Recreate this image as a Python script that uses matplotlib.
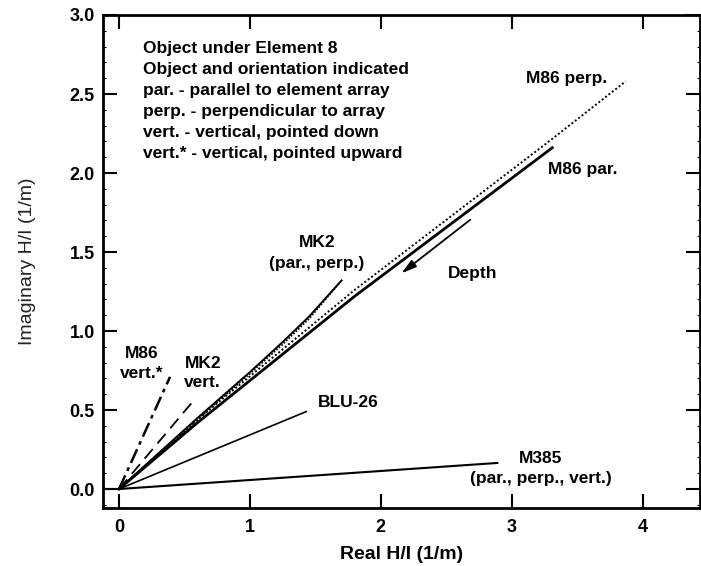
import numpy as np
import matplotlib
matplotlib.use("Agg")
import matplotlib.pyplot as plt
from matplotlib.ticker import MultipleLocator

plt.rcParams['font.family'] = ['Liberation Sans', 'DejaVu Sans']

# curves (real, imaginary), all starting at the origin
m86_perp_x = [0, 0.6, 1.8, 3.3, 3.87]
m86_perp_y = [0, 0.44, 1.26, 2.21, 2.58]
m86_par_x = [0, 0.6, 1.8, 3.31]
m86_par_y = [0, 0.42, 1.22, 2.16]
mk2_par_x = [0, 0.6, 1.0, 1.25, 1.45, 1.70]
mk2_par_y = [0, 0.45, 0.74, 0.93, 1.09, 1.32]
mk2_perp_x = [0, 0.6, 1.0, 1.25, 1.45, 1.68]
mk2_perp_y = [0, 0.44, 0.73, 0.915, 1.075, 1.30]
mk2_vert_x = [0, 0.56]
mk2_vert_y = [0, 0.55]
m86_vert_x = [0, 0.39]
m86_vert_y = [0, 0.71]
blu26_x = [0, 1.43]
blu26_y = [0, 0.49]
m385_x = [0, 2.89]
m385_y = [0, 0.165]

info_lines = ["Object under Element 8",
              "Object and orientation indicated",
              "par. - parallel to element array",
              "perp. - perpendicular to array",
              "vert. - vertical, pointed down",
              "vert.* - vertical, pointed upward"]

fig = plt.figure(figsize=(7.01, 5.66), dpi=100)
ax = fig.add_axes([0.147, 0.1025, 0.851, 0.871])

ax.plot(m86_perp_x, m86_perp_y, color='black', lw=1.4, ls=(0, (1, 1.2)))
ax.plot(m86_par_x, m86_par_y, color='black', lw=2.0)
ax.plot(mk2_par_x, mk2_par_y, color='black', lw=1.4)
ax.plot(mk2_perp_x, mk2_perp_y, color='black', lw=1.2, ls=(0, (1, 1)))
ax.plot(mk2_vert_x, mk2_vert_y, color='black', lw=1.3, ls=(0, (7, 4)))
ax.plot(m86_vert_x, m86_vert_y, color='black', lw=1.8, ls=(0, (6, 2, 1.5, 2)))
ax.plot(blu26_x, blu26_y, color='black', lw=1.2)
ax.plot(m385_x, m385_y, color='black', lw=1.5)

# short line from the axis to the origin
ax.plot([-0.12, 0], [0, 0], color='black', lw=1.5)

ax.set_xlim(-0.122, 4.435)
ax.set_ylim(-0.12, 3.0)
ax.xaxis.set_major_locator(MultipleLocator(1))
ax.yaxis.set_major_locator(MultipleLocator(0.5))
ax.yaxis.set_minor_locator(MultipleLocator(0.1))
ax.tick_params(which='major', direction='in', length=10, width=1.5,
               top=True, right=True, labelsize=13, pad=6)
ax.tick_params(which='minor', direction='in', length=2.5, width=0.8,
               left=True, right=True)
ax.tick_params(axis='x', pad=8)
for lab in ax.get_xticklabels() + ax.get_yticklabels():
    lab.set_fontweight('bold')
for sp in ax.spines.values():
    sp.set_linewidth(2)

ax.set_xlabel("Real H/I (1/m)", fontsize=14, fontweight='bold', labelpad=7)
ax.set_ylabel("Imaginary H/I (1/m)", fontsize=14, color='#222222', labelpad=24)

tfont = dict(fontsize=12.5, fontweight='bold')
ax.text(0.18, 2.835, "\n".join(info_lines), va='top', ha='left',
        linespacing=1.5, **tfont)
ax.text(3.107, 2.60, "M86 perp.", va='center', ha='left', **tfont)
ax.text(3.28, 2.02, "M86 par.", va='center', ha='left', **tfont)
ax.text(1.51, 1.495, "MK2\n(par., perp.)", va='center', ha='center',
        linespacing=1.45, **tfont)
ax.text(2.51, 1.367, "Depth", va='center', ha='left', **tfont)
ax.text(0.176, 0.795, "M86\nvert.*", va='center', ha='center', linespacing=1.35, **tfont)
ax.text(0.64, 0.735, "MK2\nvert.", va='center', ha='center', linespacing=1.35, **tfont)
ax.text(1.52, 0.545, "BLU-26", va='center', ha='left', **tfont)
ax.text(3.22, 0.128, "M385\n(par., perp., vert.)", va='center', ha='center',
        linespacing=1.45, **tfont)

ax.annotate("", xy=(2.14, 1.354), xytext=(2.70, 1.715),
            arrowprops=dict(arrowstyle='-|>,head_length=0.9,head_width=0.25',
                            color='black', lw=1.3))

fig.savefig("out.png", dpi=100)
